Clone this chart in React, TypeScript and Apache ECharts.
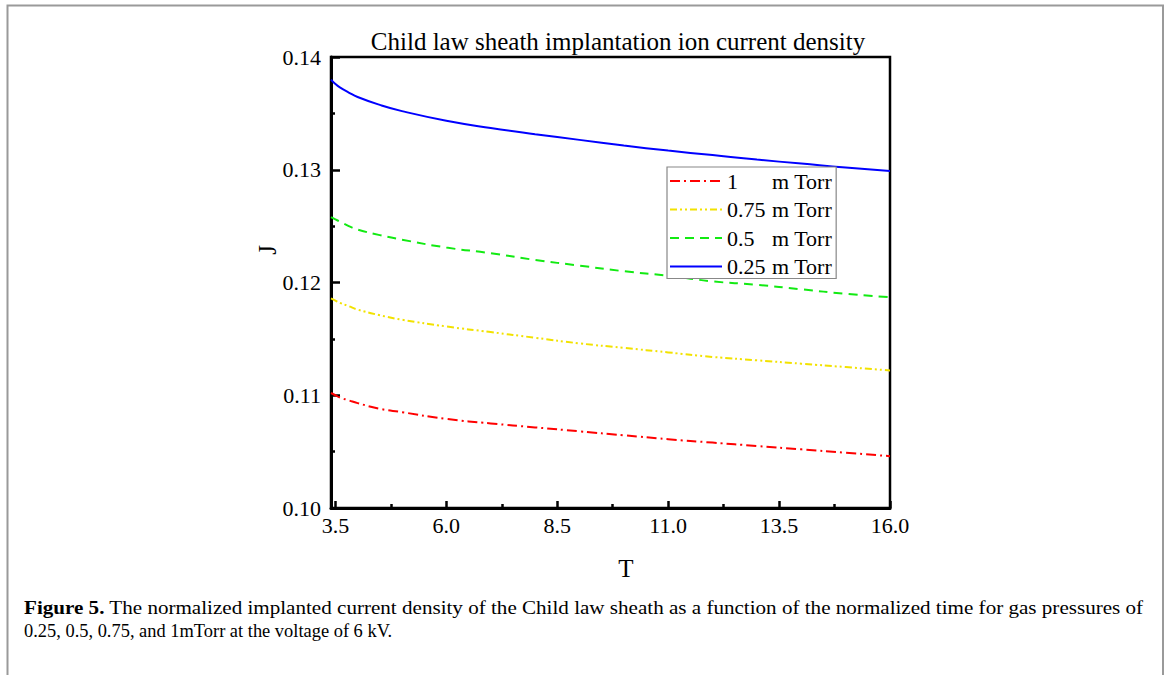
import React, { useEffect, useRef } from "react";
import * as echarts from "echarts";

const T = [3.4, 3.5, 3.6, 3.8, 4.0, 4.5, 5.0, 6.0, 7.0, 8.0, 9.0, 10.0, 11.0, 12.0, 13.0, 14.0, 15.0, 16.0];
const J_1 = [0.1102, 0.11, 0.1098, 0.10955, 0.1093, 0.1088, 0.1085, 0.1079, 0.1075, 0.10715, 0.1068, 0.10645, 0.1061, 0.1058, 0.1055, 0.1052, 0.1049, 0.1046];
const J_075 = [0.1186, 0.1184, 0.1182, 0.1179, 0.1176, 0.1171, 0.1167, 0.1161, 0.1156, 0.1151, 0.1146, 0.1142, 0.1138, 0.1134, 0.1131, 0.1128, 0.1125, 0.1122];
const J_05 = [0.1258, 0.1256, 0.1254, 0.125, 0.1247, 0.1242, 0.1238, 0.1231, 0.1226, 0.122, 0.1215, 0.121, 0.1206, 0.1201, 0.1198, 0.1194, 0.119, 0.1187];
const J_025 = [0.138, 0.1376, 0.1373, 0.13685, 0.13645, 0.13575, 0.1352, 0.13435, 0.1337, 0.13315, 0.13265, 0.13215, 0.1317, 0.1313, 0.1309, 0.13055, 0.1302, 0.1299];

const SERIES_NAMES = ["1", "0.75", "0.5", "0.25"];
const X_MAJOR = [3.5, 6.0, 8.5, 11.0, 13.5, 16.0];
const X_MINOR = [4.75, 7.25, 9.75, 12.25, 14.75];
const TITLE = "Child law sheath implantation ion current density";
const CAPTION_BOLD = "Figure 5.";
const CAPTION_1 = " The normalized implanted current density of the Child law sheath as a function of the normalized time for gas pressures of";
const CAPTION_2 = "0.25, 0.5, 0.75, and 1mTorr at the voltage of 6 kV.";

const FONT = "'Liberation Serif', 'Times New Roman', serif";

export default function App() {
  const ref = useRef<HTMLDivElement>(null);
  useEffect(() => {
    if (!ref.current) return;
    const chart = echarts.init(ref.current, undefined, { renderer: "svg" });
    const pair = (vals: number[]) => T.map((t, i) => [t, vals[i]]);
    const mk = (name: string, vals: number[], color: string, dash: any) => ({
      type: "line",
      name,
      data: pair(vals),
      smooth: 0.5,
      symbol: "none",
      showSymbol: false,
      xAxisIndex: 0,
      yAxisIndex: 0,
      lineStyle: { color, width: 2, type: dash },
      itemStyle: { color },
    });
    chart.setOption({
      animation: false,
      textStyle: { fontFamily: FONT, color: "#000" },
      grid: {
        left: 331,
        right: 280,
        top: 57,
        bottom: 167,
        show: true,
        borderColor: "#000",
        borderWidth: 2.5,
        backgroundColor: "transparent",
      },
      title: {
        text: TITLE,
        left: 613,
        top: 24,
        textAlign: "center",
        textStyle: { fontFamily: FONT, fontSize: 25, fontWeight: "normal", color: "#000" },
      },
      legend: {
        orient: "vertical",
        left: 667,
        top: 167,
        itemWidth: 52,
        itemHeight: 14,
        itemGap: 6.5,
        padding: [3, 4, 1, 2],
        borderColor: "#888",
        borderWidth: 1.2,
        backgroundColor: "#fff",
        data: SERIES_NAMES,
        itemStyle: { color: "transparent", borderWidth: 0, opacity: 0 },
        formatter: (n: string) => `{a|${n}}{b|m Torr}`,
        textStyle: {
          fontFamily: FONT,
          fontSize: 22,
          color: "#000",
          lineHeight: 22,
          rich: {
            a: { width: 45, fontFamily: FONT, fontSize: 22, color: "#000" },
            b: { fontFamily: FONT, fontSize: 22, color: "#000" },
          },
        },
      },
      xAxis: [
        {
          type: "value",
          min: 3.4,
          max: 16,
          splitLine: { show: false },
          axisLine: { show: true, onZero: false, lineStyle: { color: "#000", width: 3 } },
          axisTick: {
            show: true,
            inside: true,
            length: 7,
            customValues: X_MAJOR,
            lineStyle: { color: "#000", width: 2.5 },
          },
          axisLabel: {
            customValues: X_MAJOR,
            formatter: (v: number) => v.toFixed(1),
            fontFamily: FONT,
            fontSize: 22,
            color: "#000",
            margin: 6,
          },
        },
        {
          type: "value",
          min: 3.4,
          max: 16,
          position: "bottom",
          splitLine: { show: false },
          axisLine: { show: false },
          axisTick: {
            show: true,
            inside: true,
            length: 4,
            customValues: X_MINOR,
            lineStyle: { color: "#000", width: 2.5 },
          },
          axisLabel: { show: false },
        },
      ],
      yAxis: {
        type: "value",
        min: 0.1,
        max: 0.14,
        interval: 0.01,
        splitLine: { show: false },
        axisLine: { show: true, onZero: false, lineStyle: { color: "#000", width: 3 } },
        axisTick: { show: true, inside: true, length: 9, lineStyle: { color: "#000", width: 2.5 } },
        minorTick: { show: true, splitNumber: 2, length: 4, lineStyle: { color: "#000", width: 2.5 } },
        axisLabel: {
          formatter: (v: number) => v.toFixed(2),
          fontFamily: FONT,
          fontSize: 22,
          color: "#000",
          margin: 10,
        },
      },
      series: [
        mk(SERIES_NAMES[0], J_1, "#ff0000", [10, 4, 2, 4]),
        mk(SERIES_NAMES[1], J_075, "#f2e200", [7, 3, 2, 3, 2, 3]),
        mk(SERIES_NAMES[2], J_05, "#12ea12", [9, 6]),
        mk(SERIES_NAMES[3], J_025, "#0000ff", "solid"),
      ],
      graphic: [
        {
          type: "rect",
          shape: { x: 7.5, y: 5.5, width: 1155.5, height: 720 },
          style: { fill: "none", stroke: "#9a9a9a", lineWidth: 2 },
          silent: true,
          z: -1,
        },
        {
          type: "text",
          x: 267,
          y: 250,
          rotation: Math.PI / 2,
          style: {
            text: "J",
            fontFamily: FONT,
            fontSize: 25,
            fill: "#000",
            align: "center",
            verticalAlign: "middle",
          },
        },
        {
          type: "text",
          x: 626,
          y: 568,
          style: {
            text: "T",
            fontFamily: FONT,
            fontSize: 25,
            fill: "#000",
            align: "center",
            verticalAlign: "middle",
          },
        },
        {
          type: "text",
          x: 24,
          y: 607,
          scaleX: 1.11,
          style: {
            text: `{b|${CAPTION_BOLD}}{n|${CAPTION_1}}`,
            verticalAlign: "middle",
            rich: {
              b: { fontFamily: FONT, fontSize: 19, fontWeight: "bold", fill: "#000" },
              n: { fontFamily: FONT, fontSize: 19, fill: "#000" },
            },
          },
        },
        {
          type: "text",
          x: 24,
          y: 630,
          scaleX: 0.97,
          style: {
            text: CAPTION_2,
            fontFamily: FONT,
            fontSize: 19,
            fill: "#000",
            verticalAlign: "middle",
          },
        },
      ],
    });
    return () => chart.dispose();
  }, []);
  return (
    <div
      ref={ref}
      style={{ position: "absolute", left: 0, top: 0, width: 1170, height: 675, background: "#fff" }}
    />
  );
}
